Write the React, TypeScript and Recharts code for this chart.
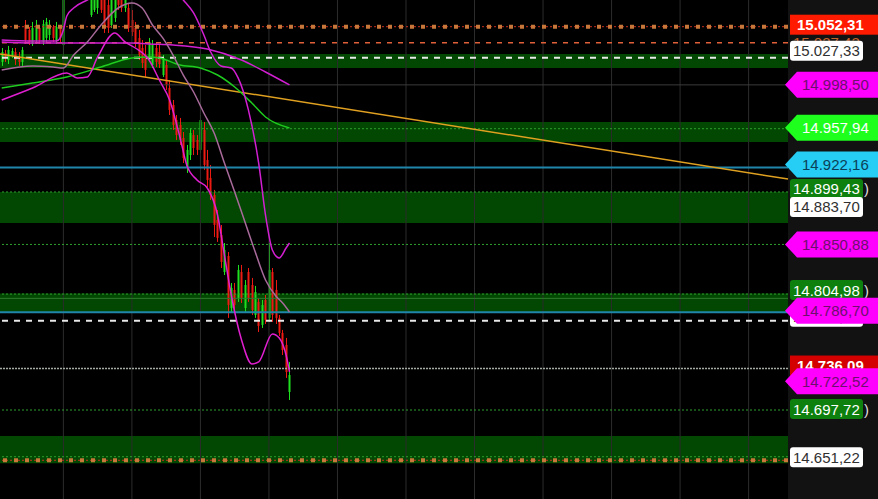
import React from 'react';
import { ComposedChart, Bar, Line, XAxis, YAxis, ReferenceLine, ReferenceArea } from 'recharts';

const W = 878;
const H = 499;
const AXIS_W = 90;
const PLOT_R = W - AXIS_W;

// price range visible in the window
const yDomain = [14615.4, 15077.0];
const xDomain = [0, 230];

// ---- candles (OHLC), one per bar index 0..84 ----
const opens = [
  15019.7, 15028.0, 15021.5, 15026.1, 15028.9, 15023.4, 15019.7, 15053.9, 15049.3, 15036.3,
  15040.0, 15051.1, 15038.2, 15041.9, 15044.6, 15052.0, 15040.0, 15051.1, 15035.4, 15086.3,
  15104.8, 15095.5, 15109.4, 15100.1, 15112.2, 15095.5, 15063.1, 15067.8, 15069.6, 15081.6,
  15077.0, 15072.4, 15053.9, 15060.4, 15081.6, 15077.0, 15069.6, 15069.6, 15058.5, 15051.1,
  15041.9, 15032.6, 15026.1, 15021.5, 15016.9, 15032.6, 15028.9, 15007.6, 15016.9, 14995.6,
  14979.9, 14966.0, 14961.4, 14949.4, 14921.6, 14933.6, 14952.1, 14947.5, 14938.3, 14956.8,
  14929.0, 14912.4, 14896.6, 14873.5, 14859.6, 14825.4, 14840.2, 14792.1, 14808.8, 14801.4,
  14825.4, 14792.1, 14825.4, 14813.4, 14785.6, 14797.7, 14776.4, 14799.5, 14782.9, 14825.4,
  14808.8, 14782.9, 14769.0, 14757.9, 14714.4,
];
const highs = [
  15032.6, 15030.8, 15034.5, 15032.6, 15032.6, 15028.9, 15033.5, 15058.5, 15052.0, 15056.7,
  15058.5, 15052.0, 15058.5, 15060.4, 15058.5, 15053.9, 15056.7, 15053.9, 15090.9, 15114.0,
  15118.6, 15123.3, 15118.6, 15123.3, 15118.6, 15104.8, 15100.1, 15095.5, 15100.1, 15090.9,
  15086.3, 15081.6, 15086.3, 15090.9, 15088.1, 15086.3, 15088.1, 15074.2, 15067.8, 15056.7,
  15049.3, 15040.0, 15035.4, 15041.9, 15040.0, 15037.2, 15035.4, 15026.1, 15021.5, 15003.0,
  14984.5, 14970.6, 14967.9, 14954.9, 14942.9, 14958.6, 14956.8, 14952.1, 14970.6, 14964.2,
  14938.3, 14924.4, 14901.3, 14882.8, 14868.9, 14852.2, 14843.9, 14815.2, 14815.2, 14831.9,
  14831.9, 14818.0, 14829.1, 14819.9, 14812.5, 14801.4, 14799.5, 14804.1, 14852.2, 14829.1,
  14818.0, 14785.6, 14771.8, 14764.4, 14742.2,
];
const lows = [
  15016.0, 15019.7, 15017.8, 15023.4, 15016.9, 15016.0, 15016.0, 15036.3, 15035.4, 15034.5,
  15036.3, 15036.3, 15035.4, 15038.2, 15040.0, 15038.2, 15036.3, 15038.2, 15023.4, 15081.6,
  15090.9, 15090.9, 15095.5, 15095.5, 15090.9, 15078.9, 15061.3, 15065.9, 15064.1, 15065.0,
  15046.5, 15046.5, 15051.1, 15056.7, 15067.8, 15065.9, 15065.9, 15047.4, 15043.7, 15033.5,
  15021.5, 15014.1, 15005.8, 15019.7, 15014.1, 15015.0, 15014.1, 15005.8, 14993.8, 14970.6,
  14956.8, 14947.5, 14942.9, 14926.2, 14917.0, 14929.0, 14933.6, 14933.6, 14935.5, 14919.8,
  14904.0, 14892.0, 14857.8, 14853.2, 14829.1, 14822.6, 14782.9, 14788.4, 14790.3, 14797.7,
  14796.7, 14788.4, 14797.7, 14785.6, 14782.9, 14769.9, 14773.6, 14777.3, 14779.2, 14779.2,
  14777.3, 14766.2, 14748.6, 14727.4, 14707.0,
];
const closes = [
  15028.9, 15023.4, 15030.8, 15029.8, 15021.5, 15019.7, 15030.8, 15040.0, 15038.2, 15051.1,
  15053.9, 15040.0, 15054.8, 15056.7, 15052.9, 15041.9, 15052.0, 15041.9, 15084.4, 15104.8,
  15095.5, 15109.4, 15100.1, 15114.0, 15095.5, 15081.6, 15086.3, 15084.4, 15086.3, 15067.8,
  15053.9, 15051.1, 15077.0, 15081.6, 15072.4, 15069.6, 15081.6, 15051.1, 15047.4, 15038.2,
  15026.1, 15018.7, 15012.3, 15038.2, 15035.4, 15019.7, 15017.8, 15023.4, 14998.4, 14975.3,
  14961.4, 14952.1, 14947.5, 14930.9, 14938.3, 14954.0, 14940.1, 14938.3, 14966.0, 14924.4,
  14910.5, 14896.6, 14868.9, 14856.9, 14834.7, 14845.8, 14794.9, 14810.6, 14794.9, 14827.3,
  14801.4, 14813.4, 14801.4, 14790.3, 14806.9, 14775.5, 14794.9, 14781.0, 14827.3, 14785.6,
  14782.9, 14769.0, 14753.3, 14732.9, 14730.1,
];

// ---- indicator lines (key points: bar index, value) ----
const maIdx = [0, 9, 19, 29, 38, 43, 46, 52, 58, 63, 68, 73, 77, 84];
const maVal = [14995.6, 15000.2, 15005.8, 15015.0, 15023.4, 15024.3, 15023.4, 15016.9, 15014.1, 15007.6, 14996.5, 14981.7, 14968.8, 14958.6];

const slowUpIdx = [0, 9, 18, 29, 38, 43, 50, 60, 70, 77, 84];
const slowUpVal = [15038.2, 15037.2, 15037.2, 15037.2, 15037.2, 15036.3, 15035.4, 15031.7, 15021.5, 15010.4, 14998.4];

const fastUpIdx = [0, 9, 16, 18, 19, 21, 26, 32, 40, 47, 53, 56, 59, 61, 64, 67, 69, 72, 75, 77, 79, 81, 83, 84];
const fastUpVal = [15040.0, 15039.1, 15039.1, 15049.3, 15062.2, 15069.6, 15078.9, 15095.5, 15109.4, 15097.4, 15077.0, 15065.0, 15044.6, 15028.9, 15016.0, 15014.1, 15004.9, 14975.3, 14926.2, 14878.1, 14845.8, 14838.4, 14847.6, 14852.2];

const fastMidIdx = [0, 9, 15, 18, 21, 25, 29, 34, 38, 41, 44, 47, 50, 53, 56, 59, 62, 65, 68, 71, 74, 77, 80, 82, 84];
const fastMidVal = [15012.3, 15016.0, 15015.0, 15014.1, 15026.1, 15038.2, 15053.9, 15069.6, 15074.2, 15069.6, 15053.9, 15041.9, 15026.1, 15007.6, 14991.9, 14972.5, 14954.0, 14926.2, 14899.4, 14871.6, 14843.9, 14818.0, 14803.2, 14796.7, 14788.4];

const fastLowIdx = [0, 9, 19, 22, 25, 28, 33, 36, 39, 43, 46, 49, 52, 54, 57, 60, 63, 65, 67, 70, 73, 75, 79, 81, 83, 84];
const fastLowVal = [14984.5, 14995.6, 15009.5, 15004.9, 15005.8, 15024.3, 15046.5, 15038.2, 15032.6, 15021.5, 15003.0, 14984.5, 14950.3, 14924.4, 14910.5, 14903.1, 14878.1, 14841.1, 14804.1, 14762.5, 14740.3, 14742.2, 14768.1, 14764.4, 14748.6, 14732.9];

// ---- trend line ----
const trendX = [0, 230];
const trendY = [15027.0, 14911.4];

// ---- horizontal zones and levels ----
const zoneTop = [15027.0, 14964.1, 14899.4, 14805.5, 14673.7];
const zoneBottom = [15014.1, 14945.6, 14870.7, 14787.5, 14648.4];

const squareLevels = [15052.31, 14651.22];
const orangeDashLevels = [15037.43];
const whiteDashLevels = [15023.6, 14780.3];
const greenDotLevels = [14957.94, 14899.43, 14850.88, 14804.98, 14697.72, 14654.5];
const blueLevels = [14922.16, 14788.1];
const grayLevels = [14998.5];
const grayDotLevels = [14736.09];
const faintGreenLevels = [14801.0];

const gridX = [18.5, 38.5, 58.5, 78.5, 98.5, 118.5, 138.5, 158.5, 178.5, 198.5, 218.5];

// ---- price labels on the right scale ----
const axisLabels = [15037.43, 15052.31, 15027.33, 14998.5, 14957.94, 14922.16, 14899.43, 14883.7, 14850.88, 14780.3, 14804.98, 14786.7, 14736.09, 14722.52, 14697.72, 14651.22];
const labelStyles: any[] = [
  { kind: 'ghost', fg: '#c8612a', dy: 0 },
  { kind: 'full', bg: '#ff1a00', fg: '#ffffff', bold: true, dy: -2 },
  { kind: 'box', bg: '#ffffff', fg: '#303030', dy: -3 },
  { kind: 'arrow', bg: '#ff00ff', fg: '#6e0f6e', dy: 0 },
  { kind: 'arrow', bg: '#1eff1e', fg: '#ffffff', dy: -1 },
  { kind: 'arrow', bg: '#26cdf5', fg: '#0b4158', dy: -3 },
  { kind: 'box', bg: '#0e800e', fg: '#ffffff', paren: true, dy: -3 },
  { kind: 'box', bg: '#ffffff', fg: '#303030', dy: -2 },
  { kind: 'arrow', bg: '#ff00ff', fg: '#6e0f6e', dy: 0 },
  { kind: 'box', bg: '#ffffff', fg: '#303030', dy: -4 },
  { kind: 'box', bg: '#0e800e', fg: '#ffffff', paren: true, dy: -4 },
  { kind: 'arrow', bg: '#ff00ff', fg: '#6e0f6e', dy: -3 },
  { kind: 'full', bg: '#d40000', fg: '#ffffff', bold: true, dy: -3 },
  { kind: 'arrow', bg: '#ff00ff', fg: '#6e0f6e', dy: -2 },
  { kind: 'box', bg: '#0e800e', fg: '#ffffff', paren: true, dy: -1 },
  { kind: 'box', bg: '#ffffff', fg: '#303030', dy: -3 },
];

const fmt = (v: number) => {
  const [i, d] = v.toFixed(2).split('.');
  return i.replace(/\B(?=(\d{3})+(?!\d))/g, '.') + ',' + d;
};

const candleData: any[] = opens.map((o, k) => ({
  t: k + 0.5,
  o,
  h: highs[k],
  l: lows[k],
  c: closes[k],
  range: [lows[k], highs[k]],
}));
const lineData = (idx: number[], val: number[]) => idx.map((k, j) => ({ t: k + 0.5, v: val[j] }));
const maData = lineData(maIdx, maVal);
const slowUpData = lineData(slowUpIdx, slowUpVal);
const fastUpData = lineData(fastUpIdx, fastUpVal);
const fastMidData = lineData(fastMidIdx, fastMidVal);
const fastLowData = lineData(fastLowIdx, fastLowVal);

const FONT = '"Liberation Sans", Arial, sans-serif';

const Candle = (props: any) => {
  const { x, y, width, height, payload } = props;
  if (x == null || y == null || payload == null) return null;
  const top = Math.min(y, y + height);
  const h = Math.abs(height);
  const span = payload.h - payload.l;
  const k = span > 0 ? h / span : 0;
  const cx = Math.round(x + width / 2);
  const yo = top + (payload.h - payload.o) * k;
  const yc = top + (payload.h - payload.c) * k;
  const up = payload.c >= payload.o;
  const col = up ? '#1fe01f' : '#ec1a12';
  const bt = Math.min(yo, yc);
  const bh = Math.max(1, Math.abs(yc - yo));
  return (
    <g>
      <line x1={cx + 0.5} x2={cx + 0.5} y1={top} y2={top + h} stroke={col} strokeWidth={1} />
      <rect x={cx - 0.5} y={bt} width={2} height={bh} fill={col} />
    </g>
  );
};

const AxisLabel = (props: any) => {
  const { y, payload } = props;
  const i = axisLabels.indexOf(payload.value);
  const s = labelStyles[i];
  if (!s) return null;
  const cy = y + s.dy;
  const txt = fmt(payload.value);
  const common = { fontFamily: FONT, fontSize: 15 } as any;
  if (s.kind === 'ghost') {
    return (
      <text x={PLOT_R + 5} y={cy + 5.5} fill={s.fg} {...common}>
        {txt}
      </text>
    );
  }
  if (s.kind === 'full') {
    return (
      <g>
        <rect x={PLOT_R + 2} y={cy - 10} width={AXIS_W - 2} height={20} fill={s.bg} />
        <text x={PLOT_R + 9} y={cy + 5.5} fill={s.fg} fontWeight="bold" {...common}>
          {txt}
        </text>
      </g>
    );
  }
  if (s.kind === 'box') {
    return (
      <g>
        <rect x={PLOT_R + 2} y={cy - 10} width={73} height={20} rx={3} fill={s.bg} />
        <text x={PLOT_R + 5} y={cy + 5.5} fill={s.fg} {...common}>
          {txt}
        </text>
        {s.paren ? (
          <text x={PLOT_R + 76} y={cy + 5.5} fill="#dddddd" {...common}>
            )
          </text>
        ) : null}
      </g>
    );
  }
  // arrow
  const pts = [
    [PLOT_R - 3, cy],
    [PLOT_R + 9, cy - 13],
    [W, cy - 13],
    [W, cy + 13],
    [PLOT_R + 9, cy + 13],
  ]
    .map((p) => p.join(','))
    .join(' ');
  return (
    <g>
      <polygon points={pts} fill={s.bg} />
      <text x={PLOT_R + 14} y={cy + 5.5} fill={s.fg} {...common}>
        {txt}
      </text>
    </g>
  );
};

const lineProps = {
  dataKey: 'v',
  type: 'monotone' as const,
  strokeWidth: 1.5,
  dot: false,
  activeDot: false,
  isAnimationActive: false,
};

export default function App() {
  return (
    <div style={{ position: 'fixed', left: 0, top: 0, width: W, height: H, background: '#000', overflow: 'hidden' }}>
      <div style={{ position: 'absolute', left: PLOT_R, top: 0, width: AXIS_W, height: H, background: '#121212' }} />
      <div style={{ position: 'absolute', left: 0, top: 0 }}>
        <ComposedChart width={W} height={H} data={candleData} margin={{ top: 0, right: 0, bottom: 0, left: 0 }}>
          <XAxis dataKey="t" type="number" domain={xDomain} allowDataOverflow hide />
          <YAxis
            orientation="right"
            width={AXIS_W}
            domain={yDomain}
            allowDataOverflow
            ticks={axisLabels}
            interval={0}
            axisLine={false}
            tickLine={false}
            tick={(p: any) => <AxisLabel {...p} />}
          />
          {zoneTop.map((t, i) => (
            <ReferenceArea
              key={'z' + i}
              x1={xDomain[0]}
              x2={xDomain[1]}
              y1={zoneBottom[i]}
              y2={t}
              fill="#024702"
              fillOpacity={1}
              stroke="none"
            />
          ))}
          {gridX.map((g) => (
            <ReferenceLine key={'gx' + g} x={g} stroke="#2c2c2c" strokeWidth={1} />
          ))}
          {grayLevels.map((v) => (
            <ReferenceLine key={'gl' + v} y={v} stroke="#3a3a3a" strokeWidth={1} />
          ))}
          {faintGreenLevels.map((v) => (
            <ReferenceLine key={'fg' + v} y={v} stroke="#2f7a2f" strokeWidth={1} />
          ))}
          {greenDotLevels.map((v) => (
            <ReferenceLine key={'gd' + v} y={v} stroke="#2ea02e" strokeWidth={1} strokeDasharray="2 2" />
          ))}
          {blueLevels.map((v) => (
            <ReferenceLine key={'bl' + v} y={v} stroke="#1f86aa" strokeWidth={2} />
          ))}
          {grayDotLevels.map((v) => (
            <ReferenceLine key={'gdl' + v} y={v} stroke="#a3aba3" strokeWidth={1.5} strokeDasharray="2 1" />
          ))}
          {whiteDashLevels.map((v) => (
            <ReferenceLine key={'wd' + v} y={v} stroke="#e8e8e8" strokeWidth={2} strokeDasharray="6 6" />
          ))}
          {orangeDashLevels.map((v) => (
            <ReferenceLine key={'od' + v} y={v} stroke="#e0603a" strokeWidth={1.5} strokeDasharray="5 6" />
          ))}
          {squareLevels.map((v) => (
            <ReferenceLine key={'sq1' + v} y={v} stroke="#c8321e" strokeWidth={1} strokeDasharray="2 2" />
          ))}
          {squareLevels.map((v) => (
            <ReferenceLine key={'sq2' + v} y={v} stroke="#c8773a" strokeWidth={4} strokeDasharray="4 7" />
          ))}
          <ReferenceLine
            segment={[
              { x: trendX[0], y: trendY[0] },
              { x: trendX[1], y: trendY[1] },
            ]}
            stroke="#e0a020"
            strokeWidth={1.5}
          />
          <Line {...lineProps} data={maData} stroke="#1ecb1e" />
          <Line {...lineProps} data={slowUpData} stroke="#d21fd2" />
          <Bar dataKey="range" barSize={3} shape={(p: any) => <Candle {...p} />} isAnimationActive={false} />
          <Line {...lineProps} data={fastMidData} stroke="#a86a9a" />
          <Line {...lineProps} data={fastUpData} stroke="#d21fd2" />
          <Line {...lineProps} data={fastLowData} stroke="#e01fd0" />
        </ComposedChart>
      </div>
    </div>
  );
}
